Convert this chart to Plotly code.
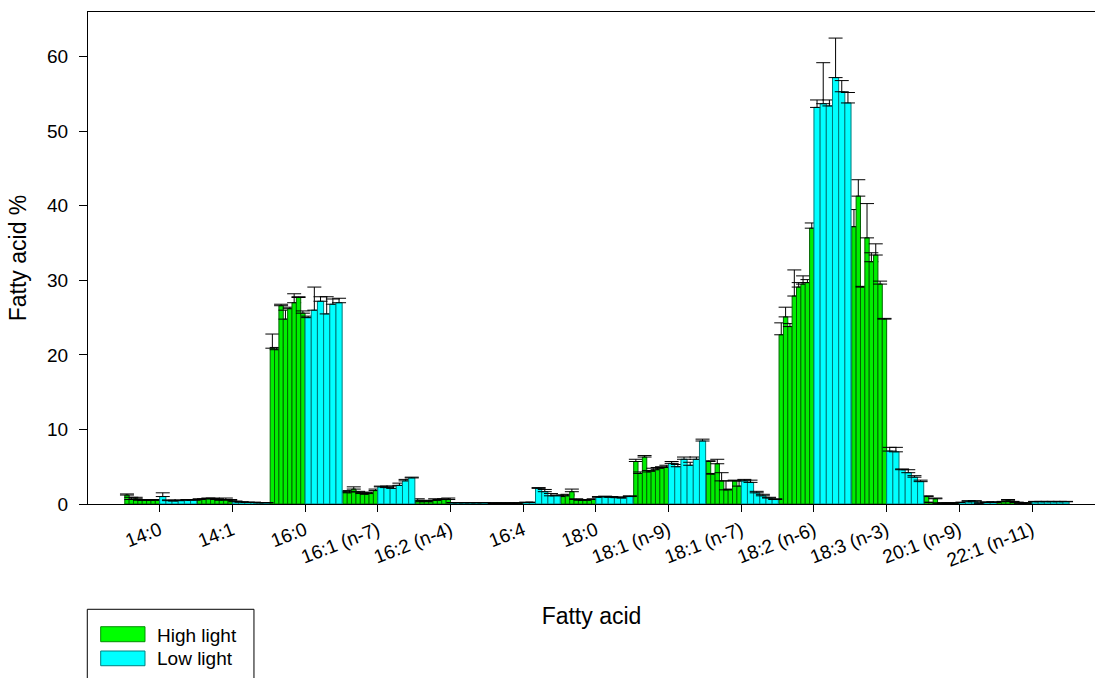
import plotly.graph_objects as go

categories = ['14:0', '14:1', '16:0', '16:1 (n-7)', '16:2 (n-4)', '16:4', '18:0',
              '18:1 (n-9)', '18:1 (n-7)', '18:2 (n-6)', '18:3 (n-3)', '20:1 (n-9)', '22:1 (n-11)']

# High light: 8 samples per fatty acid
hl_vals = [
    [1.2, 0.6, 0.7, 0.5, 0.5, 0.5, 0.5, 0.5],
    [0.6, 0.6, 0.7, 0.7, 0.6, 0.5, 0.6, 0.5],
    [20.9, 20.7, 26.6, 24.8, 26.2, 27.0, 27.7, 25.6],
    [1.6, 1.5, 2.0, 1.6, 1.4, 1.3, 1.4, 1.8],
    [0.5, 0.3, 0.4, 0.3, 0.5, 0.5, 0.6, 0.6],
    [0.1, 0.1, 0.1, 0.1, 0.1, 0.1, 0.1, 0.1],
    [1.0, 1.1, 1.65, 0.6, 0.5, 0.5, 0.5, 0.6],
    [5.7, 4.1, 6.3, 4.3, 4.4, 4.6, 4.8, 4.9],
    [5.7, 4.0, 5.4, 3.1, 1.9, 1.9, 3.1, 2.4],
    [22.7, 25.1, 23.8, 27.9, 29.1, 29.5, 29.7, 37.0],
    [37.2, 41.3, 29.1, 35.7, 32.5, 33.4, 29.5, 24.8],
    [1.0, 0.2, 0.7, 0.1, 0.1, 0.1, 0.1, 0.1],
    [0.2, 0.3, 0.5, 0.3, 0.2, 0.1, 0.1, 0.1],
]
hl_err = [
    [0.15, 0.3, 0.2, 0.1, 0.1, 0.1, 0.1, 0.1],
    [0.1, 0.1, 0.1, 0.1, 0.1, 0.1, 0.2, 0.1],
    [1.9, 0.3, 0.2, 1.2, 0.2, 1.2, 0.1, 0.3],
    [0.1, 0.3, 0.3, 0.1, 0.1, 0.2, 0.2, 0.2],
    [0.2, 0.1, 0.1, 0.1, 0.2, 0.1, 0.1, 0.2],
    [0.05, 0.05, 0.05, 0.05, 0.05, 0.05, 0.05, 0.05],
    [0.2, 0.2, 0.35, 0.1, 0.1, 0.1, 0.1, 0.1],
    [0.3, 0.2, 0.2, 0.2, 0.4, 0.3, 0.2, 0.3],
    [0.1, 0.1, 0.6, 1.1, 1.2, 0.1, 0.1, 0.7],
    [1.6, 1.3, 0.4, 3.5, 0.6, 1.1, 0.4, 0.7],
    [2.3, 2.2, 0.1, 4.6, 1.2, 1.5, 0.4, 0.1],
    [0.1, 0.05, 0.1, 0.05, 0.05, 0.05, 0.05, 0.05],
    [0.05, 0.05, 0.1, 0.05, 0.05, 0.05, 0.05, 0.05],
]

# Low light: 6 samples per fatty acid
ll_vals = [
    [1.0, 0.45, 0.4, 0.45, 0.5, 0.5],
    [0.3, 0.25, 0.2, 0.2, 0.15, 0.15],
    [25.0, 26.0, 27.2, 25.5, 26.8, 27.0],
    [2.3, 2.2, 2.1, 2.5, 3.1, 3.5],
    [0.15, 0.15, 0.15, 0.15, 0.15, 0.15],
    [0.2, 0.2, 2.1, 1.65, 1.1, 1.1],
    [0.9, 0.95, 0.9, 0.85, 0.8, 1.0],
    [5.45, 5.0, 6.0, 5.2, 6.0, 8.45],
    [3.1, 2.9, 1.5, 1.1, 0.8, 0.6],
    [53.2, 53.7, 53.4, 57.2, 55.3, 53.8],
    [7.1, 7.0, 4.6, 4.2, 3.6, 3.0],
    [0.2, 0.3, 0.3, 0.1, 0.2, 0.2],
    [0.3, 0.3, 0.3, 0.3, 0.3, 0.3],
]
ll_err = [
    [0.5, 0.1, 0.1, 0.1, 0.1, 0.1],
    [0.1, 0.05, 0.05, 0.05, 0.05, 0.05],
    [0.2, 3.1, 0.6, 2.3, 0.7, 0.6],
    [0.1, 0.2, 0.3, 0.3, 0.2, 0.1],
    [0.05, 0.05, 0.05, 0.05, 0.05, 0.05],
    [0.05, 0.05, 0.1, 0.3, 0.3, 0.1],
    [0.1, 0.1, 0.1, 0.1, 0.1, 0.1],
    [0.25, 0.3, 0.3, 0.4, 0.3, 0.25],
    [0.2, 0.3, 0.2, 0.2, 0.1, 0.1],
    [1.0, 5.5, 0.8, 5.3, 1.5, 1.4],
    [0.5, 0.6, 0.1, 0.4, 0.2, 0.2],
    [0.05, 0.15, 0.15, 0.05, 0.1, 0.1],
    [0.05, 0.05, 0.05, 0.05, 0.05, 0.05],
]

series_names = ['High light', 'Low light']

HL_FILL, HL_LINE = '#00ee00', '#006400'
LL_FILL, LL_LINE = '#00ffff', '#007878'
HL_W, LL_W = 0.06, 0.085

fig = go.Figure()
n_hl = len(hl_vals[0])
for j in range(n_hl):
    fig.add_trace(go.Bar(
        x=categories, y=[row[j] for row in hl_vals],
        offset=-HL_W * n_hl + HL_W * j, width=HL_W,
        marker=dict(color=HL_FILL, line=dict(color=HL_LINE, width=1)),
        error_y=dict(type='data', symmetric=False, array=[row[j] for row in hl_err],
                     arrayminus=[0] * len(categories), color='black', thickness=1, width=7),
        name=series_names[0], showlegend=False,
    ))
n_ll = len(ll_vals[0])
for k in range(n_ll):
    fig.add_trace(go.Bar(
        x=categories, y=[row[k] for row in ll_vals],
        offset=LL_W * k, width=LL_W,
        marker=dict(color=LL_FILL, line=dict(color=LL_LINE, width=1)),
        error_y=dict(type='data', symmetric=False, array=[row[k] for row in ll_err],
                     arrayminus=[0] * len(categories), color='black', thickness=1, width=7),
        name=series_names[1], showlegend=False,
    ))

font = 'Liberation Sans, Arial, sans-serif'

# Legend box drawn in paper coordinates (bottom-left, clipped by the page edge)
shapes = [
    dict(type='rect', xref='paper', yref='paper', x0=-0.0007, x1=0.1648, y0=-0.40, y1=-0.214,
         line=dict(color='black', width=1), fillcolor='white', layer='above'),
    dict(type='rect', xref='paper', yref='paper', x0=0.0126, x1=0.0566, y0=-0.2799, y1=-0.2494,
         line=dict(color='#009000', width=1), fillcolor='#00ff00', layer='above'),
    dict(type='rect', xref='paper', yref='paper', x0=0.0126, x1=0.0566, y0=-0.3287, y1=-0.2988,
         line=dict(color='#008080', width=1), fillcolor='#00ffff', layer='above'),
]
annotations = [
    dict(text=series_names[0], xref='paper', yref='paper', x=0.0665, y=-0.2663,
         xanchor='left', yanchor='middle', showarrow=False, font=dict(size=19)),
    dict(text=series_names[1], xref='paper', yref='paper', x=0.0665, y=-0.3150,
         xanchor='left', yanchor='middle', showarrow=False, font=dict(size=19)),
]

fig.update_layout(
    width=1095, height=678,
    margin=dict(l=88, r=0, t=12, b=174),
    paper_bgcolor='white', plot_bgcolor='white',
    barmode='overlay', showlegend=False,
    font=dict(family=font, size=19, color='black'),
    xaxis=dict(
        type='category', range=[-0.986, 12.866], automargin=False,
        showline=True, linecolor='black', linewidth=1, mirror=True,
        ticks='outside', ticklen=7, tickcolor='black', tickangle=-21,
        showgrid=False, zeroline=False,
        title=dict(text='Fatty acid', standoff=38),
    ),
    yaxis=dict(
        range=[0, 66], tickvals=[0, 10, 20, 30, 40, 50, 60], automargin=False,
        showline=True, linecolor='black', linewidth=1,
        ticks='outside', ticklen=8, tickcolor='black', ticklabelstandoff=7,
        showgrid=False, zeroline=False,
        title=dict(text='Fatty acid %', standoff=14),
    ),
    shapes=shapes,
    annotations=annotations,
)

fig.write_html('out.html', config={'displayModeBar': False},
               post_script="document.body.style.margin='0';document.body.style.overflow='hidden';")
